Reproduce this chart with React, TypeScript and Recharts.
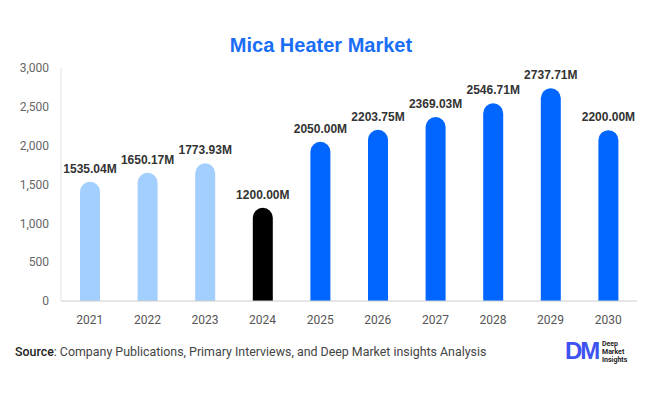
import React from 'react';
import { BarChart, Bar, XAxis, YAxis, Cell, LabelList } from 'recharts';

const years = ['2021', '2022', '2023', '2024', '2025', '2026', '2027', '2028', '2029', '2030'];
const values = [1535.04, 1650.17, 1773.93, 1200.0, 2050.0, 2203.75, 2369.03, 2546.71, 2737.71, 2200.0];
const colors = ['#a3cffe', '#a3cffe', '#a3cffe', '#000000', '#0066ff', '#0066ff', '#0066ff', '#0066ff', '#0066ff', '#0066ff'];
const yTicks = [0, 500, 1000, 1500, 2000, 2500, 3000];

const data = years.map((y, i) => ({ year: y, value: values[i] }));

export default function App() {
  return (
    <div style={{ position: 'absolute', left: 0, top: 0, width: 646, height: 394, background: '#fff', fontFamily: 'Roboto, Arial, sans-serif' }}>
      <div style={{ position: 'absolute', left: 0, width: 642, top: 32, textAlign: 'center', fontFamily: '"Liberation Sans", Arial, sans-serif', fontWeight: 'bold', fontSize: 20, color: '#1a6ef5', lineHeight: '26px' }}>
        Mica Heater Market
      </div>
      <BarChart width={646} height={394} data={data} margin={{ top: 68, right: 9, left: 0, bottom: 63 }}>
        <YAxis
          width={61}
          domain={[0, 3000]}
          ticks={yTicks}
          tickLine={false}
          axisLine={{ stroke: '#e0e0e0' }}
          tick={{ fill: '#666', fontSize: 12, fontFamily: 'Roboto, Arial, sans-serif' }}
          tickFormatter={(v: number) => v.toLocaleString('en-US')}
          tickMargin={6}
        />
        <XAxis
          dataKey="year"
          height={30}
          tickLine={false}
          axisLine={{ stroke: '#cccccc' }}
          tick={{ fill: '#555', fontSize: 12, fontFamily: 'Roboto, Arial, sans-serif' }}
          tickMargin={8}
        />
        <Bar dataKey="value" barSize={20} radius={[10, 10, 0, 0]} isAnimationActive={false}>
          {data.map((d, i) => (
            <Cell key={d.year} fill={colors[i]} />
          ))}
          <LabelList
            dataKey="value"
            position="top"
            offset={9}
            formatter={(v: number) => `${v.toFixed(2)}M`}
            style={{ fill: '#333', fontSize: 12, fontWeight: 'bold', fontFamily: '"Liberation Sans", Arial, sans-serif' }}
          />
        </Bar>
      </BarChart>
      <div style={{ position: 'absolute', left: 15, top: 344, fontSize: 12.4, color: '#444', fontFamily: 'Roboto, Arial, sans-serif', lineHeight: '16px' }}>
        <span style={{ fontWeight: 500, color: '#222' }}>Source</span>: Company Publications, Primary Interviews, and Deep Market insights Analysis
      </div>
      <div style={{ position: 'absolute', left: 565, top: 339, width: 36, height: 24, fontFamily: '"Liberation Sans", Arial, sans-serif', fontWeight: 'bold', fontSize: 24, color: '#3d52f0', lineHeight: '24px', letterSpacing: -2 }}>
        DM
      </div>
      <div style={{ position: 'absolute', left: 602, top: 340, fontFamily: 'Roboto, Arial, sans-serif', fontWeight: 'bold', fontSize: 7, color: '#222', lineHeight: '8px' }}>
        Deep<br />Market<br />Insights
      </div>
    </div>
  );
}
